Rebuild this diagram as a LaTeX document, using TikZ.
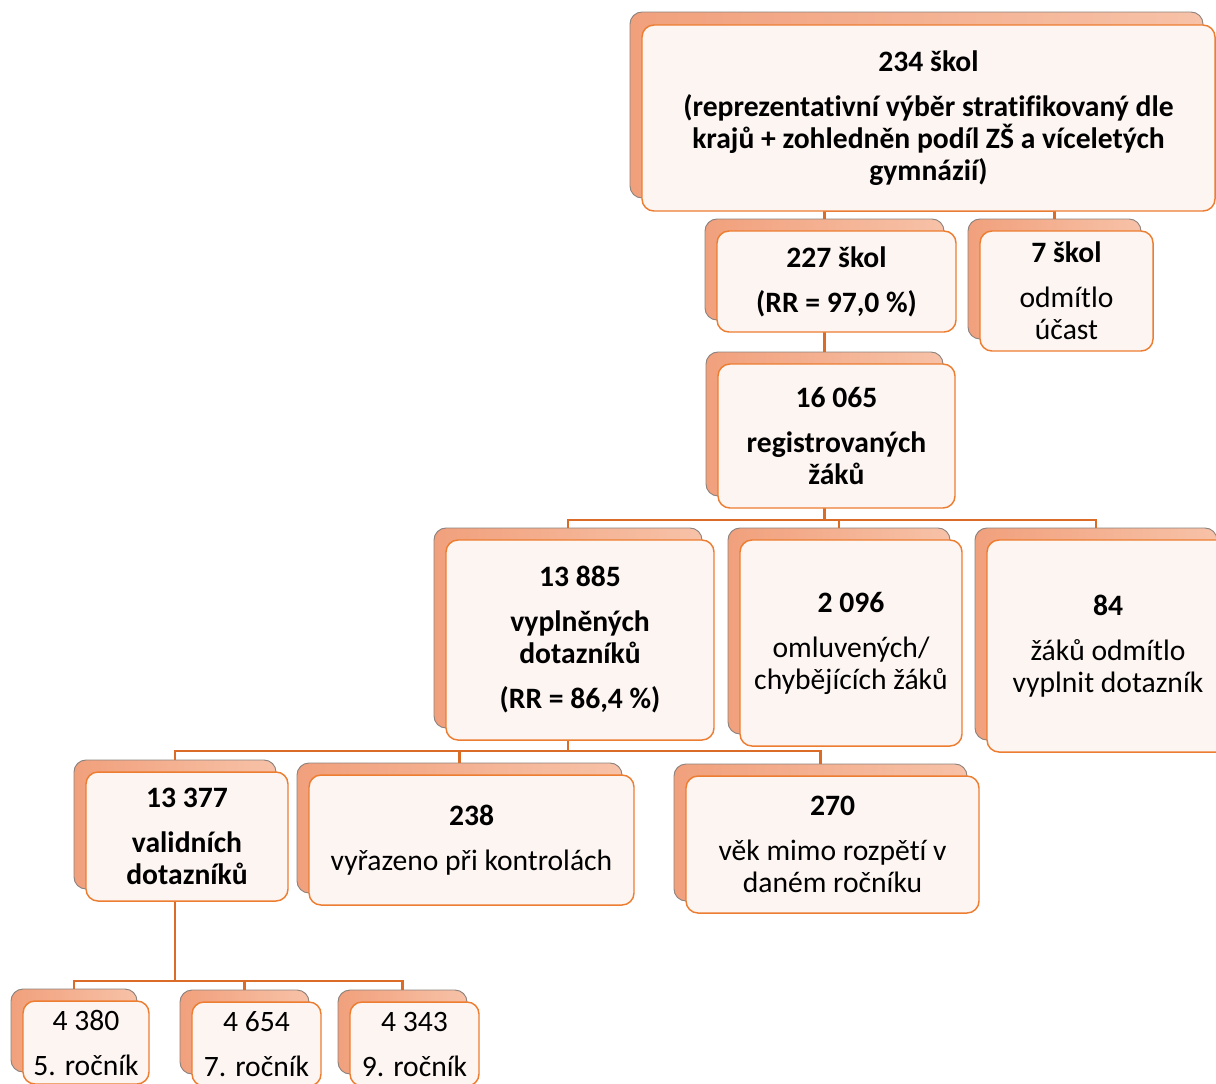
\documentclass[tikz,border=0pt]{standalone}
\usepackage{fontspec}
\setmainfont{Carlito}[Ligatures=NoCommon]

\definecolor{accent}{RGB}{237,125,49}
\definecolor{linkline}{RGB}{218,108,40}
\definecolor{backdark}{RGB}{241,160,124}
\definecolor{backlight}{RGB}{247,194,168}
\definecolor{backline}{RGB}{140,130,125}
\definecolor{frontfill}{RGB}{253,245,242}

\newcommand{\boxfont}{\fontsize{22.2}{24}\selectfont}
\newcommand{\pgap}{\\[9.75pt]}

\tikzset{every picture/.style={line width=0.75pt}}

\begin{document}
\begin{tikzpicture}[x=0.75pt,y=0.75pt,yscale=-1,
	backbox/.style 2 args={draw=backline, line width=0.7pt, left color=backdark, right color=backlight, rounded corners=9pt, minimum width=#1*0.75pt, minimum height=#2*0.75pt, inner sep=0pt},
	frontbox/.style 2 args={draw=accent, line width=1.1pt, fill=frontfill, rounded corners=9pt, minimum width=#1*0.75pt, minimum height=#2*0.75pt, inner sep=0pt, align=center, font=\boxfont},
	allbold/.style={font=\boxfont\bfseries},
	link/.style={draw=linkline, line width=1.8pt}]
	\clip (0,0) rectangle (1216,1083);

	%Shape: Rounded Rect [back boxes]
	\node [backbox={573}{186}] (schools-b) at (916.5,105) {};
	\node [backbox={239}{101}] (joined-b) at (824.5,269.5) {};
	\node [backbox={173}{120}] (refused-b) at (1054.5,279) {};
	\node [backbox={237}{144}] (registered-b) at (824.5,424) {};
	\node [backbox={268}{200}] (filled-b) at (568,628) {};
	\node [backbox={222}{206}] (excused-b) at (839,631) {};
	\node [backbox={242}{212}] (declined-b) at (1096,634) {};
	\node [backbox={202}{129}] (valid-b) at (175,824.5) {};
	\node [backbox={325}{130}] (removed-b) at (459.5,828) {};
	\node [backbox={293}{137}] (age-b) at (820.5,832.5) {};
	\node [backbox={126}{83}] (grade5-b) at (74,1030.5) {};
	\node [backbox={129}{84}] (grade7-b) at (244.5,1032) {};
	\node [backbox={129}{84}] (grade9-b) at (402.5,1032) {};

	%Straight Lines [connectors]
	\coordinate (bar1) at (0,211);
	\coordinate (bar2) at (0,520);
	\coordinate (bar3) at (0,751);
	\coordinate (bar4) at (0,981);
	\draw [link] (schools-b.south) -- (schools-b |- bar1) -| (joined-b.north);
	\draw [link] (schools-b |- bar1) -| (refused-b.north);
	\draw [link] (joined-b.south) -- (registered-b.north);
	\draw [link] (registered-b.south) -- (registered-b |- bar2) -| (filled-b.north);
	\draw [link] (registered-b |- bar2) -| (excused-b.north);
	\draw [link] (registered-b |- bar2) -| (declined-b.north);
	\draw [link] (filled-b.south) -- (filled-b |- bar3) -| (valid-b.north);
	\draw [link] (filled-b |- bar3) -| (removed-b.north);
	\draw [link] (filled-b |- bar3) -| (age-b.north);
	\draw [link] (valid-b.south) -- (valid-b |- bar4) -| (grade5-b.north);
	\draw [link] (valid-b |- bar4) -| (grade7-b.north);
	\draw [link] (valid-b |- bar4) -| (grade9-b.north);

	% Text Node
	\node [frontbox={573}{186}, allbold] (schools) at (928.5,118) {234 škol\pgap (reprezentativní výběr stratifikovaný dle\\ krajů + zohledněn podíl ZŠ a víceletých\\ gymnázií)};
	% Text Node
	\node [frontbox={239}{101}, allbold] (joined) at (836.5,281.5) {227 škol\pgap (RR = 97,0 \%)};
	% Text Node
	\node [frontbox={173}{120}] (refused) at (1066.5,291) {\textbf{7 škol}\pgap odmítlo\\ účast};
	% Text Node
	\node [frontbox={237}{144}, allbold] (registered) at (836.5,436) {16 065\pgap registrovaných\\ žáků};
	% Text Node
	\node [frontbox={268}{200}, allbold] (filled) at (580,640) {13 885\pgap vyplněných\\ dotazníků\pgap (RR = 86,4 \%)};
	% Text Node
	\node [frontbox={222}{206}] (excused) at (851,643) {\textbf{2 096}\pgap omluvených/\\ chybějících žáků};
	% Text Node
	\node [frontbox={242}{212}] (declined) at (1108,646) {\textbf{84}\pgap žáků odmítlo\\ vyplnit dotazník};
	% Text Node
	\node [frontbox={202}{129}, allbold] (valid) at (187,836.5) {13 377\pgap validních\\ dotazníků};
	% Text Node
	\node [frontbox={325}{130}] (removed) at (471.5,840) {\textbf{238}\pgap vyřazeno při kontrolách};
	% Text Node
	\node [frontbox={293}{137}] (age) at (832.5,844.5) {\textbf{270}\pgap věk mimo rozpětí v\\ daném ročníku};
	% Text Node
	\node [frontbox={126}{83}] (grade5) at (86,1042.5) {4 380\pgap 5. ročník};
	% Text Node
	\node [frontbox={129}{84}] (grade7) at (256.5,1044) {4 654\pgap 7. ročník};
	% Text Node
	\node [frontbox={129}{84}] (grade9) at (414.5,1044) {4 343\pgap 9. ročník};

\end{tikzpicture}
\end{document}
